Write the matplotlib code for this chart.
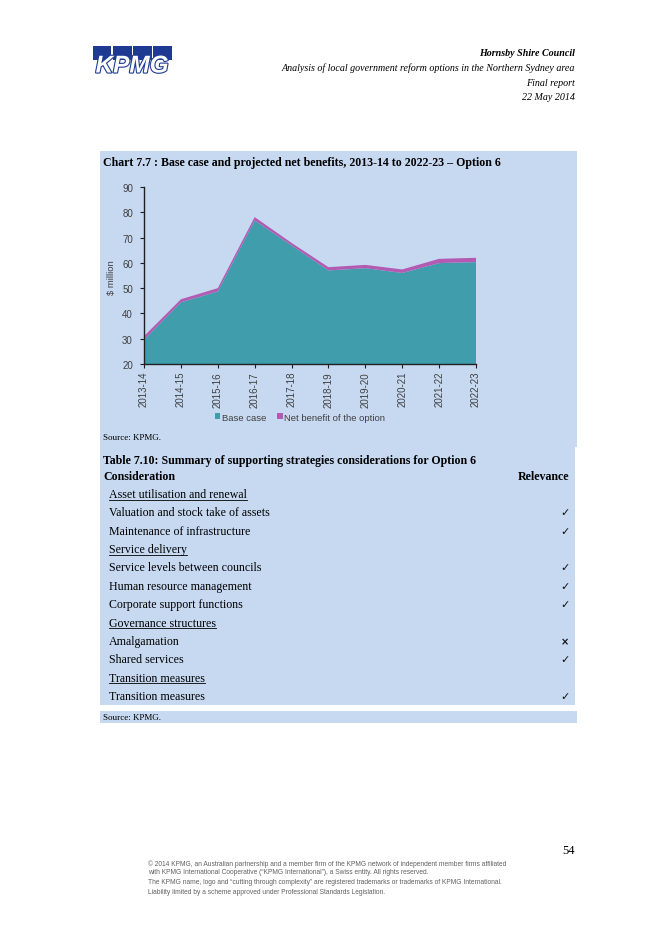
import matplotlib
matplotlib.use("Agg")
import matplotlib.pyplot as plt
import matplotlib.patheffects as pe
from matplotlib.patches import Rectangle
from matplotlib.lines import Line2D
import numpy as np

years = ['2013-14', '2014-15', '2015-16', '2016-17', '2017-18',
         '2018-19', '2019-20', '2020-21', '2021-22', '2022-23']
base_case = [29.6, 44.4, 48.7, 76.8, 66.9, 57.0, 57.9, 56.0, 59.9, 60.3]
net_benefit = [1.4, 1.2, 1.3, 1.3, 1.0, 1.3, 1.3, 1.4, 1.7, 1.7]
y_ticks = [20, 30, 40, 50, 60, 70, 80, 90]

rows = ['Asset utilisation and renewal', 'Valuation and stock take of assets',
        'Maintenance of infrastructure', 'Service delivery',
        'Service levels between councils', 'Human resource management',
        'Corporate support functions', 'Governance structures',
        'Amalgamation', 'Shared services', 'Transition measures',
        'Transition measures']
is_heading = [True, False, False, True, False, False, False, True,
              False, False, True, False]
relevance = ['', '✓', '✓', '', '✓', '✓', '✓', '', '×', '✓', '', '✓']

W, H = 656, 928
BG = '#C6D9F1'
TEAL = '#3F9DAC'
MAGENTA = '#B35BB3'
KPMG_BLUE = '#1F3A93'
SERIF = 'Liberation Serif'
SANS = 'Liberation Sans'

fig = plt.figure(figsize=(W / 100, H / 100), dpi=100)
fig.patch.set_facecolor('white')


def fx(x):
    return x / W


def fy(y):
    return 1 - y / H


def box(x0, y0, x1, y1, color):
    fig.patches.append(Rectangle((fx(x0), fy(y1)), fx(x1 - x0), (y1 - y0) / H,
                                 transform=fig.transFigure, facecolor=color,
                                 edgecolor='none', zorder=-5))


def txt(x, y, s, **kw):
    return fig.text(fx(x), fy(y), s, **kw)


# header logo
for i in range(4):
    box(93 + i * 20, 47, 93 + i * 20 + 18.5, 61, KPMG_BLUE)
logo = txt(132, 67, 'KPMG', fontsize=17.5, fontstyle='italic', fontweight='bold',
           family=SANS, color='white', ha='center', va='center')
logo.set_path_effects([pe.Stroke(linewidth=1.6, foreground=KPMG_BLUE), pe.Normal()])

hdr = dict(fontsize=7.2, family=SERIF, fontstyle='italic', ha='right', va='center')
txt(575, 53, 'Hornsby Shire Council', fontweight='bold', **hdr)
txt(575, 68, 'Analysis of local government reform options in the Northern Sydney area', **hdr)
txt(575, 84, 'Final report', **hdr)
txt(575, 98, '22 May 2014', **hdr)

# blue panels
box(100, 152, 577, 448, BG)
box(100, 448, 575, 706, BG)
box(100, 712, 577, 724, BG)

txt(103, 163, 'Chart 7.7 : Base case and projected net benefits, 2013-14 to 2022-23 \u2013 Option 6',
    fontsize=8.6, family=SERIF, fontweight='bold', ha='left', va='center')

# chart
ax = fig.add_axes([fx(144), fy(365), fx(476 - 144), (365 - 188) / H])
ax.set_zorder(2)
ax.set_facecolor('none')
x = np.arange(len(years))
polys = ax.stackplot(x, base_case, net_benefit, colors=[TEAL, MAGENTA],
                     labels=['Base case', 'Net benefit of the option'],
                     linewidth=0)
ax.set_xlim(0, len(years) - 1)
ax.set_ylim(20, 90)
ax.set_yticks(y_ticks)
ax.set_xticks(x, years, rotation=90)
for s in ['top', 'right']:
    ax.spines[s].set_visible(False)
for s in ['left', 'bottom']:
    ax.spines[s].set_color('#202020')
    ax.spines[s].set_linewidth(1.0)
ax.tick_params(axis='both', labelsize=7, labelcolor='#404040', length=3,
               width=0.8, color='#202020')
ax.tick_params(axis='y', pad=5)
ax.tick_params(axis='x', pad=2)
for lab in ax.get_xticklabels() + ax.get_yticklabels():
    lab.set_family(SANS)
txt(111, 278, '$ million', fontsize=6.8, family=SANS, color='#404040',
    rotation=90, ha='center', va='center')

fig.legend(handles=polys, labels=['Base case', 'Net benefit of the option'],
           loc='center', bbox_to_anchor=(fx(300), fy(418)), ncol=2,
           frameon=False, handlelength=0.6, handleheight=0.6,
           handletextpad=0.15, columnspacing=1.2,
           prop={'family': SANS, 'size': 6.8}, labelcolor='#404040')

txt(103, 438, 'Source: KPMG.', fontsize=6.5, family=SERIF, ha='left', va='center')

# table
tbl = dict(fontsize=8.6, family=SERIF, va='center')
txt(103, 461, 'Table 7.10: Summary of supporting strategies considerations for Option 6',
    fontweight='bold', ha='left', **tbl)
txt(103, 477, 'Consideration', fontweight='bold', ha='left', **tbl)
txt(569, 477, 'Relevance', fontweight='bold', ha='right', **tbl)

row_y = np.linspace(495, 697, len(rows))
texts = []
for name, head, rel, y in zip(rows, is_heading, relevance, row_y):
    t = txt(109, y, name, ha='left', **tbl)
    if head:
        texts.append(t)
    if rel:
        bold = 'bold' if rel == '×' else 'normal'
        txt(565, y, rel, fontsize=8 if rel == '✓' else 7, family='DejaVu Sans',
            fontweight=bold, ha='center', va='center', color='#111111')

fig.canvas.draw()
renderer = fig.canvas.get_renderer()
for t in texts:
    bb = t.get_window_extent(renderer)
    yl = bb.y0 + 0.5
    fig.lines.append(Line2D([bb.x0 / W, bb.x1 / W], [yl / H, yl / H],
                            transform=fig.transFigure, color='black',
                            linewidth=0.6))

txt(103, 718, 'Source: KPMG.', fontsize=6.5, family=SERIF, ha='left', va='center')

# footer
txt(575, 851, '54', fontsize=9, family=SERIF, ha='right', va='center')
footer = ['\u00a9 2014 KPMG, an Australian partnership and a member firm of the KPMG network of independent member firms affiliated',
          'with KPMG International Cooperative (\u201cKPMG International\u201d), a Swiss entity. All rights reserved.',
          'The KPMG name, logo and \u201ccutting through complexity\u201d are registered trademarks or trademarks of KPMG International.',
          'Liability limited by a scheme approved under Professional Standards Legislation.']
for line, y in zip(footer, [864, 873, 883, 893]):
    txt(148, y, line, fontsize=4.8, family=SANS, color='#606060',
        ha='left', va='center')

fig.savefig('out.png', dpi=100, facecolor='white')
